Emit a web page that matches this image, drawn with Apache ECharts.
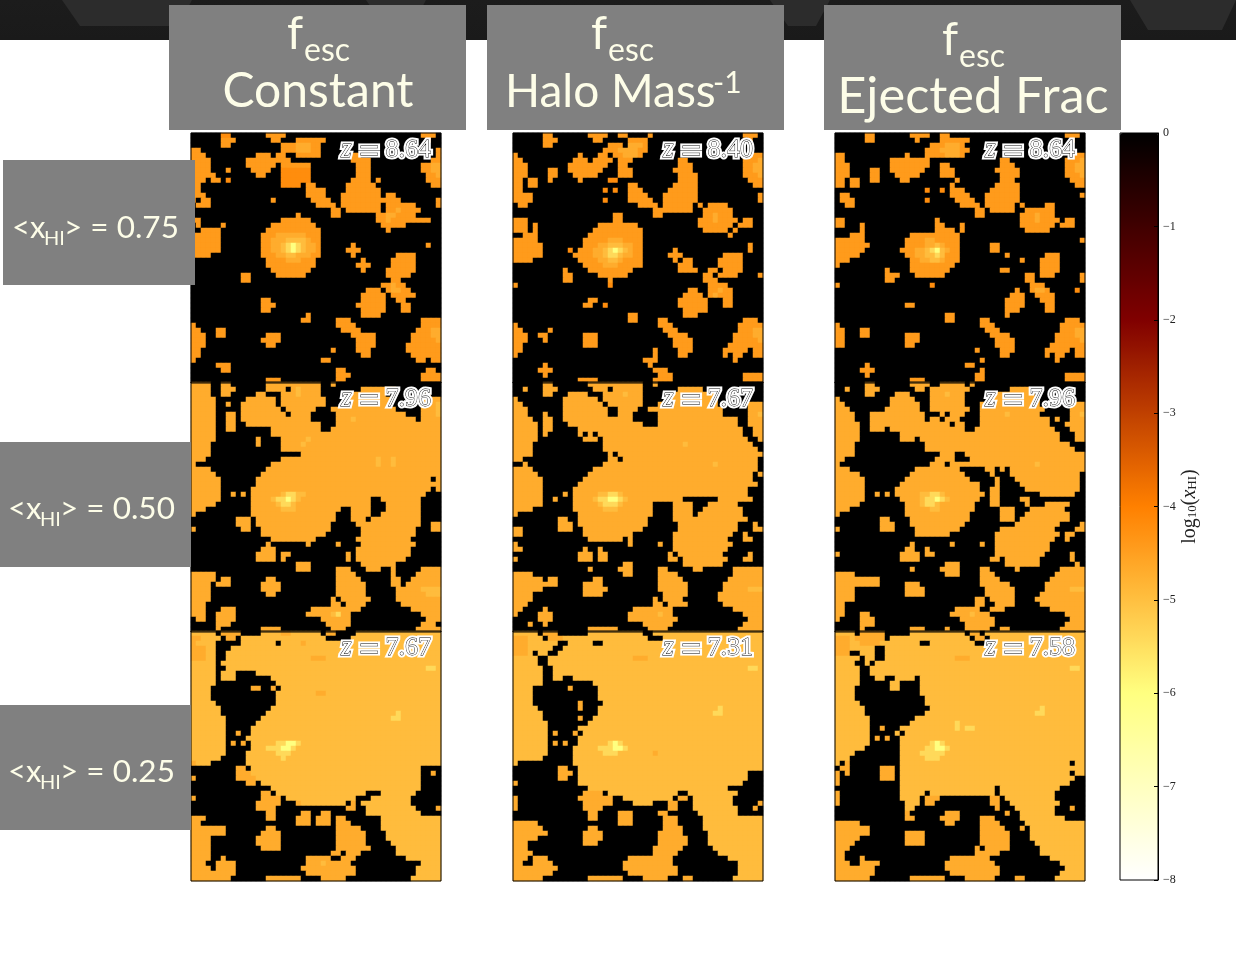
<!DOCTYPE html>
<html>
<head>
<meta charset="utf-8">
<script src="https://cdn.jsdelivr.net/npm/echarts@6/dist/echarts.min.js"></script>
<style>
html, body { margin: 0; padding: 0; background: #fff; }
#main { width: 1236px; height: 968px; }
</style>
</head>
<body>
<div id="main"></div>
<script>
// log10(xHI), one letter per cell, '.' is fully neutral
var levels = { '.': 0, a: -4.2, b: -4.42, c: -4.7, d: -4.95, e: -5.4, f: -6.0 };

var mapConstant75 = [
"......aa.. .....bbbb. .......... .......... ......bbb.",
"......bbb. ......bb.. .bbbbbb... .......... .......b..",
"......bb.. ........bb bcccbb.... .......... ..........",
"bb........ ........bb bcccbb.... .......... .........b",
"bbb....... ...bbb.bb. .bbbbb.... .bbb...... .........b",
"bbbb...... .bbbbbbbbb .......... ..bbbb.... ........bb",
"bbbb...... .bbbbbb.bb bbbb...... ...bbb.... ......bbcc",
"bbbb...b.. ..bbbb..aa aaaa...... ...bbb.... ......bbcc",
"bbbbb..... ...bb...aa aaaa...... ...bbb.... .......bbc",
"bbb.bb.a.. ........aa aaaa...... ..bbbb.b.. .......bbb",
"bb........ ........aa aa.bb..... .bbbbbb... ........bb",
"bb........ .......... ...bbbb... .bbbbbbb.. ..........",
"bbb....... .......... ...bbbb... bbbbbbbb.b b.........",
"b.bb...... ......b... ....bbbb.. bbbbbbbbbb bb.......b",
".bbb...... .......... .....bbbb. bbbbbbbb.b bbbbb....b",
".......... .......... ........bb .bbbbbbb.b bcbbbb....",
".......... .......... .b......bb .......bbc cbbbb.....",
"bb........ ........bb bbbb...... .......bbc bbbbbbbb..",
".b....b... ......bbbb bbbbb..... ........bb bbb.......",
"..bbbb.... .....bbbbb bbbbbb.... .........b ..........",
"bbbbbb.... ....bbbccc cccbbb.... .......... ..........",
"bbbbbb.... ....bbcccd dddcbb.... .......... ..........",
"bbbbbb.... ....bbccde fedccb.... ..b....... .......b..",
"bbbbbb.... ....bbccde fedccb.... .bbb...... ..........",
"bbbb...... ....bbbccd dcccbb.... ..b....... .bbbb.....",
".......... .....bbbbc ccbbb..... ....b..... bbbbb.....",
".......... .....bbbbb bbbbb..... ...bbb.... bbbbb.....",
".......... ......bbbb bbbb...... ....b....b bbbbb.....",
".......... bb.....bbb bbb....... .........b bbbb......",
".......... bb........ .......... .......... bb........",
".......... .......... .......... ........bb cbb.......",
".......... .......... .......... .....bbb.b ccbb......",
".......... .......... .......... ....bbbbb. bbbbb.....",
".......... ....bb.... .......... ....bbbbb. .bb.......",
".......... ....bbb... .......... ...bbbbbb. ..bb......",
".......... ....bb.... .......... ....bbbbb. ..bb......",
".......... .......... ...b...... ....bbbb.. ..........",
".......... .......... ..bb.....b bb........ ......bbbb",
"b......... .......... .........b bbb....... ......bbbb",
"bb...bb... .......... .......... bbbb...... .....bbbcc",
"bbb..bb... .....bbb.. .......... ..bbbbb... ....bbbbcc",
"bbb....... ....bbbb.. .......... ...bbbb... ....bbbbbc",
"bbb....... .....bb... .......... ...bbbb... ...bbbbbbb",
"bb........ .......... ........b. ...bbb.... ...bbbbbbb",
"bb........ .......... .......... ....bb.... ....bbbbbb",
"b......... .......... ......bb.. .......... .....bb.bb",
".....bbb.. .......... .......... .......... ..........",
"......bb.. .......... .........b b......... .......bb.",
".......... .......... .........b bb........ ......bbbb",
".......... .....bbb.. .........b b......... ......bbbb"
];

var mapHaloMass75 = [
"......bb.. .....bbbb. .bb....b.. .......... ......bbb.",
"......bbb. ......bb.. ...bbbb... .......... .......b..",
"......bb.. .........b bb.cccb... .......... ..........",
".......... ........bb bccccbb... .......... ..........",
"b......... ...b...bb. bbcccb.... .......... .......bbb",
"bb........ ..bbb.bbbb .bbb...... ...bb..... ......bbbc",
"bbb....... .bbbbbbbb. .bb....... ...bbb.... ......bbcc",
"bbb....bb. .bbbbbbb.. .bbb...... ..bbbb.... ......bbcc",
"bbb....bb. ..bbbbb... .bbb...... ...bbbb... ......bbbc",
"bb.bb..b.. ...b.....a a......... ...bbbb... .......bbb",
"bb.bb..... .......... ...bb..... ..bbbbb... ........bb",
"bb........ ........a. a..bbb.... .bbbbbb... ..........",
"bbbb...... .......... ...bbbb... bbbbbbb... .........b",
"bbbb...... ........a. ...bbbbb.. bbbbbbb... .........b",
".bb....... .......... .....bbbb. bbbbbb.b.b bbb.......",
".......... .......... ........bb bbbbbb..bb bbbb......",
".......... .......... bb......bb ........bb cbbb......",
"bbb....... .......... bb........ .......bbb cbbbb.bb..",
"bbb.b..... .......bbb bbbbb..... .......bbb bbbb.bbb..",
"bbb.b..... ......bbbb bbbbbb.... ........bb bbb.b.....",
"..bbb..... .....bbbbb bbbbbb.... .......... ...b......",
"bbbbb..... ....bbbbbc ccbbbb.... .......... ..........",
"bbbbbb.... ....bbbccd ddccbb.... .......... .......b..",
"bbbbbb.... .a.bbbccde fedcbb.... ..b....... .......b..",
"bbbbbb.... ..bbbbccde edccbb.... .bbb...... ..bbbb....",
"bbbb...... ...bbbbccd dcbbbb.... ..b.bb.... .bbbbb....",
".......... ....bbbbcc cbbbbb.... ...bbb.... .bbbbb....",
".......... b....bbbbb bbbb...... ...bbbb..b b.bbbb....",
".......... bb.....bbb bbb....... ........bb .bbbb....b",
".......... bb.......b .......... ........bb b.........",
"b......... .........a .......... .........b bbb.......",
".......... .......... .......... .....bb..b bcbb......",
".......... .......... .......... ....bbbb.b cbbb......",
".......... .....bb... .......... ...bbbbbb. ..bb......",
".......... ....bb..a. .......... ...bbbbbb. ..bb......",
".......... .......... .......... ....bbbbb. ..........",
".......... .......... ...bb..... ....bbb... ..........",
".......... .......... ...bb....b b......... ......bbb.",
"b......... .......... .........b bb........ .....bbbbb",
"bb.....b.. .......... .......... bbb....... .....bbbcc",
"bbb..bb... ....bbb... .......... .bbbb..... ....bbbbcc",
"bbb...b... ....bbb... .......... ..bbbb.... ....bbbbbc",
"bb........ ....bbb... .......... ..bbbb.... ...bbbbbbb",
"bb........ .......... ........b. ...bbb.... ..bbbbb.bb",
"b......... .......... ........b. ...bb..... ..b.bb..bb",
".......... .......... ......bbb. .......... ....b.....",
"......b... .......... .......b.. .......... ..........",
".....bbb.. .......... ........bb b......... ..........",
"......b... .......... .........b bb........ ......bbbb",
".......... ...bbbb... ........bb bb........ ......bbbb"
];

var mapEjected75 = [
"......bb.. .....bbbb. .bb....... .......... ......bbb.",
"......bb.. ......b... .bbbbbb... .......... .......b..",
".......... .........b bbcccb.... .......... ..........",
".......... ........bb bccccbb... .......... ..........",
"bb........ ....b...bb bbcccb.... .......... .......bbb",
"bb........ .bbbbbbbb. .......... ...bb..... ......bbbc",
"bbb....... .bbbbbbbb. .bb....... ...bbb.... ......bbcc",
"bbb....bb. .bbbbbbb.. .bbb...... ..bbbbb... ......bbcc",
"bbb....bb. ..bbbbb... .bbb...... ...bbbb... ......bbbc",
"bb.bb..bb. ...bb..... ....b..... ...bbb.... .......bbb",
"bb.bb..... .......... ...b...... ..bbbbb... ........bb",
".......... ........a. .a.bbb.... .bbbbbb... ..........",
".bb....... .......... ...bbbb... bbbbbbb... .........b",
".bbb...... ........a. ....bbbb.. bbbbbbb... ..........",
"..bb...... .......... .....bbbb. bbbbbb.b.. ..bb......",
".......... .......... ........bb .bbbbb..bb bbbb......",
".......... .......... ........bb .......bbb cbbb......",
"bb........ .......... b......... .......bbb cbbbb.bb..",
"bb...b.... .......... bb...b.... .......bbb bbbb.bbb..",
".....b.... .......... bbbb.b.... ........bb bbb.......",
"...bbb.... .....bbbbb bbbbb..... .......... ..........",
"bbbbbb.... ....bbbbcc bbbbb..... .......... .........b",
"bbbbbbb... ....bbbbcc dcbbb..... .bb....... ..........",
"bbbbbb.... ...bbbccde fdcbb..... .bb....... ..........",
"bbbbb..... ....bbccdd edbbb..... ....b..... ..bbb.....",
"bbb....... .....bbccd dcbbb..... .......b.. .bbbb.....",
"b......... .....bbbbb bbbb...... .......... .bbbb.....",
".......... b....bbbbb bbb....... ...bb..... .bbbb.....",
".......... bbb...bbbb bb........ ........bb .bbb.....b",
".......... bb........ .......... ........bb .........b",
"b......... .........a .......... .........b bb........",
".......... .......... .......... ......b..b ccb.....a.",
".......... .......... .......... .....bbb.. bbbb......",
".......... .......... .......... ....bbbb.. .bbb......",
".......... ....bb.... .......... ....bbbb.. ..bb......",
".......... .......... .......... ....bbb... ..bb......",
".......... .......... ..bb...... ....b..... ..........",
".......... .......... ..bb.....b b......... ......bbb.",
"b......... .......... .........b bb........ .....bbbbb",
"bb...bb... .......... .......... bbb....... .....bbbcc",
"bb...bb... ....bbb... .......... .bbbb..... ....bbbbcc",
"bb........ ....bbb... .......... ..bbbb.... ....bbbbbc",
"bb........ ....bb.... .......... ..bbbb.... ...bbbbbbb",
".......... .......... ........b. ...bbb.... ..bbbbb.bb",
".......... .......... .......... ...bb..... ..b.bb..bb",
".......... .......... .........b .......... ....b.....",
"......b... .......... ......bb.. .......... ..........",
".....bbb.. .......... .........b .......... ..........",
"......b... .......... ........bb .......... ......bbbb",
".......... .....bbb.. ........bb .......... ......bbbb"
];

var mapConstant50 = [
"cccc..cc.. .....ccccc cccccc..c. .......... ..........",
"cccc..ccc. .....cccc. cdcccc.... ....cccccc c.........",
"cccc..cc.. ...cc...cc cdcccc.... ..ccccccc. .......c..",
"ccccc..... .cccccc.cc ccccccc... .ccccccccc ......cccc",
"ccccc..c.. ccccccc.cc ccccccc... cccccccccc ......cccd",
"ccccc..... cccccccc.c ccccc...cc cccccccccc c.....cccd",
"ccccc..cc. ccccccccc. cccc.....c cccccccccc ccc...cccd",
"ccccc..cc. cccccccccc cccc.....c ccdccccccc ccccc.cccc",
"ccccc..cc. .ccccccccc cccccc...c cccccccccc cccccccccc",
"ccccc..cc. ......cccc cccccc..cc cccccccccc cccccccccc",
"ccccc..... ......cccc cccccccccc cccccccccc cccccccccc",
"ccccc..... ...c....cc cccdcccccc cccccccccc cccccccccc",
"cccc...... ...c....cc ccdccccccc cccccccccc cccccccccc",
"cccc...... ........cc cccccccccc cccccccccc cccccccccc",
"cccc...... .......... ..cccccccc cccccccccc cccccccccc",
"ccc....... ........cc cccccccccc cccccccdcc dccccccccc",
"c......... ......cccc cccccccccc cccccccdcc dccccccccc",
"cccc...... .....ccccc cccccccccc cccccccccc cccccccccc",
"ccccc..... ....cccccc cccccccccc cccccccccc cccccccccc",
"cccccc.... ...ccccccc cccccccccc cccccccccc cccccccc.c",
"cccccc.... ...ccccccc cccccccccc cccccccccc cccccccccc",
"cccccc.... ..cccccccc cccccccccc cccccccccc cccccccc.c",
"cccccc..c. c.ccccccde eddccccccc cccccccccc ccccccc...",
"cccccc.... ..ccccdeef edcccccccc cccccc..cc cccccc....",
"ccccc..... ..cccccdee dccccccccc cccccc...c cccccc....",
"ccc....... ..ccccccdd dccccccccc ..cccc...c cccccc....",
"c......... ..cccccccc ccccccccc. ..cccc..cc cccccc....",
".........c cc.ccccccc ccccccccc. ..ccc.cccc cccccc....",
".........c cc.ccccccc cccccccc.. ...ccccccc cccccc..cc",
"c......... cc..cccccc cccccccc.. ....cccccc ccccc...cc",
".......... ....cccccc ccccccc... ....cccccc ccccc.....",
".......... ......cccc ccccc..... ...ccccccc cccc......",
".......... .....c.... ...c.....c ....cccccc ccccc.....",
".......... ....ccc... .......... ...ccccccc cccc......",
".......... ...cccc.cc .......... .c.ccccccc cccc......",
".......... ...cccc.c. .......... .c.ccccccc ccc.......",
".......... .......... .ccc...... ....cccccc c.........",
".......... .......... .ccc.....c cc...ccc.. c.....cccc",
"ccccc..... .......... .........c ccc....... c....ccccc",
"ccccc.cc.. .....cc... .........c cccc...... cc..cccccc",
"cccc.ccc.. ....cccc.. .........c ccccc..... cc.ccccccc",
"cccc...... ....cccc.. .........c ccccc..... .cccccdddd",
"cccc...... .....cc... .........c ccccc..... .ccccccddd",
"cccc...... .......... ........c. cccccc.... .ccccccccc",
"ccc....... .......... ........cc .cccc..... ..cccccccc",
"ccc...ccc. .......... ....cccccc cccc...... ....cccccc",
"ccc..cccc. .......... ...cccccde cc........ ......cccc",
".cc..cccc. .......... ......cccc cc........ .......ccc",
".....ccc.. .......... .......ccc cc........ ......ccc.",
".....c.... ....cccc.. ........cc c......... .....ccccc"
];

var mapHaloMass50 = [
"......cc.. .....ccccc cccccc..c. .......... ..........",
"..c...ccc. ......ccc. cccccc.... ...ccccc.. ..........",
"......cc.. .cccc...cc ccdccc.... ..cccccccc c.........",
"c......... ccccccc.cc cccccc.... .ccccccccc c.........",
"cc........ cccccccc.c cccccc...c cccccccccc c......ccc",
"ccc....... ccccccccc. .cccc..ccc cccccccccc cc.....ccc",
"ccc...c... ccccccccc. .ccc.....c cccccccccc cc.....ccd",
"cccc..cc.. cccccccccc cccc.....c cccccccccc ccccc..ccc",
"ccccc.cc.. .ccccccccc cccccc...c cccccccccc ccccc..ccc",
"ccccc.cc.. ...ccccccc cccccccccc cccccccccc cccccc..cc",
"ccccc.c... ...c.c.ccc cccccccccc cccccccccc cccccc..cc",
"ccccc..... ....ccc.cc cccccccccc cccccccccc ccccccc..c",
"cccc...... ........cc cccccccccc ccccdccccc cccccccc..",
"cccc...... ........cc cccccccccc cccccccccc ccccccccc.",
"cccc...... .........c .ccccccccc cccccccccc cccccccccc",
"cc........ .........c c.cccccccc cccccccccc ccccccccc.",
"..c....... ........cc cccccccccc cccccccccc dcccccccc.",
"cccc...... ......cccc cccccccccc cccccccccc ccccccccc.",
"ccccc..... .....ccccc cccccccccc cccccccccc cccccccc.c",
"cccccc.... ....cccccc cccccccccc cccccccccc cccccccc..",
"cccccc.... ...ccccccc cccccccccc cccccccccc ccccccccc.",
"cccccc.... ..cccccccc cccccccccc cccccccccc ccccccc...",
"cccccc.... c.cccccdde edcccccccc cccccccccc ccccccc...",
"cccccc..c. ..ccccdeef fedccccccc cccc...... .ccccccc..",
"cccccc.... ..cccccdee edcccccc.. ..cccc...c ccccc.....",
"cccc...... ..ccccccdd dccccccc.. ..cccc..cc cccccc....",
"c......... ...ccccccc cccccccc.. ..cccc.ccc cccccc....",
".........c c..ccccccc ccccccc... ..cccccccc ccccccc...",
".........c cc.ccccccc ccccccc... ...ccccccc ccccc...c.",
"cc.......c cc..cccccc cccccc.... ...ccccccc ccccc...cc",
"cc........ ....cccccc cccc...... ..cccccccc cccc..c...",
".......... .....ccccc cc.c...... ..cccccccc ccc...cc..",
"c......... .......... ...c.....c ..cccccccc cccc......",
"cc........ ....c..c.. .......... ..cccccccc ccc.......",
".......... ...ccc.cc. .......... .c.ccccccc cc.....c..",
"c......... ...ccc.cc. .......... .cc.cccccc ccc...cc..",
".......... .......... ..cc...... ....cccccc cc........",
".......... .....c.... .ccc.....c c.....cc.. ....cccccc",
"cccc...... .......... ..cc.....c ccc....... ....cccccc",
"cccccc.cc. ......cc.. .........c cccc...... ...ccccccc",
"ccccccccc. ....cccc.. .........c ccccc..... ..cccccccc",
"cccccc.... ....ccccc. .........c ccccc..... ..cccccddd",
"cccc...... ....cccc.. .......... ccccc..... .ccccccccc",
"cccc...... .......... ........c. cccc...... .ccccccccc",
"ccc....... .......... ........cc .cccc..... ..cccccccc",
"cc....c... .......... ....cccccc cc........ ....cccccc",
"c....ccc.. .......... ...ccccccd cc........ ......cccc",
".....ccc.. .......... ...ccccccc ccc....... .......ccc",
"...c..c... .......... ......cccc cc........ ......cccc",
".......... .....ccccc c......ccc c......... .....ccccc"
];

var mapEjected50 = [
"......cc.. .....cccc. .ccccc.c.. .......... ..........",
"..c...ccc. ......cc.c ccccccc... .....cccc. ..........",
"......cc.. ..ccc....c ccdccc.... ..cccccccc ..........",
"c......... .ccccc...c cccccc.... .ccccccccc c.........",
"cc........ .cccccc..c cccccc...c cccccccccc c......ccc",
"ccc....... ccccccc..c ccccccc..c cccccccccc cc.....ccc",
"cccc...ccc cccccccc.. .c.ccc...c ccccdccccc c......ccd",
"cccc...ccc cccccccc.c c.ccc....c cccccccccc ccc.c..ccc",
"ccccc..ccc cccccccccc ccc.cc...c cccccccccc ccc...cccc",
"ccccc..ccc .ccccccccc cccccc..cc cccccccccc cccc...ccc",
"ccccc..... ...ccccccc cccccccccc cccccccccc ccccc...cc",
"ccccc..... ...ccc.ccc cccccccccc cccccccccc ccccc...cc",
"cccc...... ........cc cccccccccc cccccccccc ccccccc...",
"cccc...... ........cc cccccccccc cccccccccc cccccccc..",
"cccc...... .......... .ccc..cccc cccccccccc cccccccccc",
"cc........ .......... cccc...ccc cccccccccc cccccccccc",
"c......... .........c cc.ccccccc cccccccccc dccccccccc",
"ccc....... ......cccc ccccc..... cc.c.ccccc cccccccccc",
"ccccc..... .....ccccc cccccc.... .c...ccccc ccccccccc.",
"cccccc.... ....cccccc ccccccc... ..c...cccc ccccccccc.",
"cccccc.... ...ccccccc ccccccccc. ..c....ccc ccccccccc.",
"cccccc.... ..cccccccc ccccccccc. .cc.....cc ccccccccc.",
"cccccc..c. c.cccccdde edcccccccc .cc....... .ccccccc..",
"cccccc.... ...ccccdee fedcccccc. .cc....cc. ..........",
"ccccc..... ....cccdee dccccccc.. .cc.....c. ..ccccc...",
"ccc....... ....cccccd dccccccc.. ...ccc...c cccccc....",
"c......... ....cccccc ccccccc... ...ccc..cc ccccccc...",
".........c c....ccccc ccccccc... ...ccc.ccc ccccccc...",
".........c cc...ccccc cccccc.... ......cccc ccccc....c",
"c........c cc....cccc ccccc..... ...ccccccc cccc....cc",
".......... ......cccc ccc....... ..cccccccc ccccc.cc..",
".......... .......... .......... ..cccccccc cccc..c...",
".......... .....c.... ...c.....c ..cccccccc ccc.......",
".......... ....cc..c. .......... ..cccccccc ccc.......",
"c......... ...cccc.cc .......... ..cccccccc cc.....c..",
".......... ...cccc... .......... .cc.cccccc c......c..",
".......... .......... ..ccc..... ....cccccc c.......c.",
".......... .....c.... .cccc....c c.....c... .....ccccc",
"cccc...... .......... ..ccc....c cc........ ....cccccc",
"ccccccccc. .......... .........c ccc....... ...ccccccc",
"ccccccccc. ....ccc... .........c ccccc..... ..cccccccc",
"cccc...... ....cccc.. .......... cccccc.... ..cccccddd",
"cccc...... ....cccc.. .......... cccccc.... .ccccccccc",
"cccc...... .......... ........cc .ccccc.... cccccccccc",
"cc........ .......... ........cc ..cccc.... .ccccccccc",
"cc........ .......... ....ccccc. .ccc...... ...ccccccc",
"cc...cc... .......... ...ccccdcc c......... ......cccc",
"c....ccc.. .......... .....ccccc cc........ .......ccc",
".....ccc.. .......... ......cccc cc........ ......cccc",
".....c.... .....ccc.. ..c...cccc c..cc..... .....ccccc"
];

var mapConstant25 = [
"ddddd.cccc ....ddddcc dddddd.cc. ...ddddddd dddddddddd",
"ccdddd.cc. dddddddddd ddddddd... ..dddddddd dddddddddd",
"cdddd..... ddddddd.dd ddcddddddd ..dddddddd dddddddddd",
"cccdd...dd dddddddddd dddddddddd dddddddddd dddddddddd",
"cccdd..ddd dddddddddd dddddddddd dddddddddd dddddddddd",
"cccdd..ddd dddddddddd ddddcccddd dddddddddd dddddddddd",
"ddddd.dddd dddddddddd dddddddddd dddddddddd dddddddddd",
"ddddd..ddd dddddddddd dddddddddd dddddddddd dddddddeed",
"ddddd.ddd. ...ddddddd dddddddddd dddddddddd dddddddddd",
"ddddd.ddd. ......dddd dddddddddd dddddddddd dddddddddd",
"ddddd..... .......ddd dddddddddd dddddddddd dddddddddd",
"dddd...... ..cc..c.dd dddddddddd dddddddddd dddddddddd",
"dddd...... .......ddd dddddccddd dddddddddd dddddddddd",
"dddd...... .......ddd dddddddddd dddddddddd dddddddddd",
"ddddd..... .......ddd dddddddddd dddddddddd dddddddddd",
"dddddd.... ......dddd dddddddddd dddddddddd dddddddddd",
"dddddd.... .....ddddd dddddddddd dddddddddd dedddddddd",
"ddddddd... ....dddddd dddddddddd dddddddddd eedddddddd",
"ddddddd... ...ddddddd dddddddddd dddddddddd dddddddddd",
"ddddddd... ..dddddddd dddddddddd dddddddddd dddddddddd",
"ddddddd..c ..dddddddd dddddddddd dddddddddd dddddddddd",
"ddddddd... .ddddddddd dddddddddd dddddddddd dddddddddd",
"ddddddd.c. c.dddddeef fedddddddd dddddddddd dddddddddd",
"ddddddd... ..dddeeeff eddddddddd dddddddddd dddddddddd",
"ddddddd... .ddddddeee dddddddddd dddddddddd dddddddddd",
"dddddd.... .ddddddded dddddddddd dddddddddd dddddddddd",
"cddd...... .ddddddddd dddddddddd dddddddddd dddddddddd",
".........c c.dddddddd dddddddddd dddddddddd dddddd....",
".........c ccdddddddd dddddddddd dddddddddd dddddd..c.",
"c........c cccddddddd dddddddddd dddddddddd dddddd....",
".......... .cc.dddddd dddddddddd dddddddddd dddddd....",
".......... ......dddd dddddddddd dddddddddd dddddd....",
".......... ....cc.ddd dddddddddd ddddd...dd ddddd.....",
"c......... ....cccc.d dddddddddd ddd...dddd dddd......",
".......... ...ccccc.. .cdddddddd d.c.dddddd dddd......",
".......... ...cccc... .......... .cc..ddddd ddddd....c",
".......... .....cc... ..cc..cc.. .....ddddd dddddd....",
"ccc....... .....cc... .ccc.ccc.c c.......dd dddddddddd",
"cc........ .......... .ccc.ccc.c cc......dd dddddddddd",
"ccccccc... .....cc... .........c cccc....dd dddddddddd",
"ccccccc... ....cccc.. .........c ccccc....d dddddddddd",
"cccc...... ...ccccc.. .........c ccccc....d dddddddddd",
"cccc...... ...ccccc.. .........c ccccc..... dddddddddd",
"cccc...... ....cccc.. .........c cccccc.... .ddddddddd",
"cccc...... .......... ........cc .ccc...... .ddddddddd",
"cccc..c... .......... ...ccccc.. ccc....... ...ddddddd",
"ccc..cccc. .......... ...cccdccc cc........ ......dddd",
"cccc.cccc. .......... ..cccccccc ccc....... .....ddddd",
"ccccccccc. .......... ...ccccccc ccc....... .....ddddd",
"cccccccc.. .....ccccc cc....cccc c......... ....dddddd"
];

var mapHaloMass25 = [
"ddddd.ccc. .....ddddd dddddd..dd dddddddddd dddddddddd",
"cccddd.ccc dddddddddd ddddddd... dddddddddd dddddddddd",
"cccdddddd. .ddddd..dd dddddddddd dddddddddd dddddddddd",
"cccddddd.. dddddddddd dddddddddd dddddddddd dddddddddd",
"cccd.dd..d dddddddddd dddddddddd dddddddddd dddddddddd",
"ddddd..ddd dddddddddd ddddcccddd dddddddddd dddddddddd",
"ddddd..ddd dddddddddd dddddddddd dddddddddd dddddddddd",
"dddddd..dd dddddddddd dddddddddd dddddddddd dddddddeed",
"dddddd..dd dddddddddd dddddddddd dddddddddd dddddddddd",
"dddddd..dd ..dddddddd dddddddddd dddddddddd dddddddddd",
"dddddd.... ......dddd dddddddddd dddddddddd dddddddddd",
"dddd...... .c.....ddd dddddddddd dddddddddd dddddddddd",
"dddd...... .......ddd dddddddddd dddddddddd dddddddddd",
"dddd...... .......ddd dddddddddd dddddddddd dddddddddd",
"dddd...... ...c....dd dddddddddd dddddddddd dddddddddd",
"ddddd..... ...c...ddd dddddddddd dddddddddd dedddddddd",
"dddddd.... .......ddd dddddddddd dddddddddd eedddddddd",
"dddddd.... ...c..dddd dddddddddd dddddddddd dddddddddd",
"ddddddd... .....ddddd dddddddddd dddddddddd dddddddddd",
"ddddddd... ...ddddddd dddddddddd dddddddddd dddddddddd",
"ddddddd.c. ..c.dddddd dddddddddd dddddddddd dddddddddd",
"ddddddd... ...ddddddd dddddddddd dddddddddd dddddddddd",
"ddddddd.c. c..dddddde fedddddddd dddddddddd dddddddddd",
"ddddddd... ..dddddeee ffeddddddd dddddddddd dddddddddd",
"ddddddd... ..ddddddee edddddddcd dddddddddd dddddddddd",
"dddddd.... ..dddddddd dddddddddd dddddddddd dddddddddd",
"d......... ..dddddddd dddddddddd dddddddddd dddddddddd",
".........c c..ddddddd dddddddddd dddddddddd dddddddddd",
".........c cc.ddddddd dddddddddd dddddddddd ddddddd...",
".........c c..ddddddd dddddddddd dddddddddd ddddddd...",
"c......... ...ddddddd dddddddddd dddddddddd dddddd....",
".......... .....ddddd dddddddddd dddddddddd ddd.......",
".......... ....cccc.d dddddddddd ddd..ddddd ddddd.....",
"c......... ...ccccccc ..dddddddd dd.cc.dddd dddd......",
"c......... ....cccccc ....dddd.. .cc...dddd dddd.....c",
"c......... ....cccc.. .......... .cc...dddd ddddd...c.",
".......... .....cc... .ccc.....c c......ddd ddddd.....",
".......... .....cc... .ccc...... ccc.....dd dddddddddd",
"ccccc..... .......... .ccc...... ccc.....dd dddddddddd",
"cccccc.... .....cc... .......... cccc....dd dddddddddd",
"ccccccc... ....cccc.. .........c cccc.....d dddddddddd",
"ccccc..... ....cccc.. .........c ccccc....d dddddddddd",
"ccc....... ....ccc... .........c ccccc....d dddddddddd",
"ccc....... .......... ........cc cccc...... dddddddddd",
"cccc...... .......... ........cc ccc....... .ddddddddd",
"ccc.ccc... .......... ...ccccccc cc........ ...ddddddd",
"cc..cccc.. .......... ..cccccccc cc........ .....ddddd",
"ccccccccc. .......... ..cccccccc ccc....... .....ddddd",
"cccccccc.. .......... ...ccccccc ccc....... .....ddddd",
"cccccc.... .....ccccc cc....cccc c...cc.... ....dddddd"
];

var mapEjected25 = [
"dddd.ccccc .....ddddd dddddd.cc. dddddddddd dddddddddd",
"cccdcccccc .ddddddddd ddddddd.cc .ddddddddd dddddddddd",
"cccddccccd ddddddd..d dddddddd.. dddddddddd dddddddddd",
"cccddddd.. dddddddddd dddddddddd dddddddddd dddddddddd",
"ccc..ddd.. dddddddddd dddddddddd dddddddddd dddddddddd",
"ddddd.dd.. dddddddddd ddddcccddd dddddddddd dddddddddd",
"dddd..d.dd dddddddddd dddddddddd dddddddddd dddddddddd",
"ddddd..ddd dddddddddd dddddddddd dddddddddd dddddddeed",
"ddddd..ddd dddddddddd dddddddddd dddddddddd dddddddddd",
"ddddd...dd ..dddd.ddd dddddddddd dddddddddd dddddddddd",
"ddddd..... .dd....ddd dddddddddd dddddddddd dddddddddd",
"dddd...... .dd....ddd dddddddddd dddddddddd dddddddddd",
"dddd...... .......ddd dddddddddd dddddddddd dddddddddd",
"dddd...... ........dd dddddddddd dddddddddd dddddddddd",
"ddddd..... ........dd dddddddddd dddddddddd dddddddddd",
"dddddd.... .........d dddddddddd dddddddddd dedddddddd",
"dddddd.... ........dd dddddddddd dddddddddd eedddddddd",
"ddddddd... ......dddd dddddddddd dddddddddd dddddddddd",
"ddddddd... .....ddddd ddddeddddd dddddddddd dddddddddd",
"ddddddd..c ...ddddddd ddddedeedd dddddddddd dddddddddd",
"ddddddd... ..d.dddddd dddddddddd dddddddddd dddddddddd",
"ddddddd.c. c..ddddddd dddddddddd dddddddddd dddddddddd",
"ddddddd... ...dddddde fedddddddd dddddddddd dddddddddd",
"dddddd.... ...dddddee ffeddddddd dddddddddd dddddddddd",
"dddd...... ...ddddeee eedddddddd dddddddddd dddddddddd",
"ddd....... ...dddddee eddddddddd dddddddddd dddddddddd",
"d.c....... ...ddddddd dddddddddd dddddddddd ddddddd.dd",
".cc......c cc.ddddddd dddddddddd dddddddddd dddddddddd",
"c.c......c cc.ddddddd dddddddddd dddddddddd ddddddd.dd",
"c........c cc.ddddddd dddddddddd dddddddddd dddddddd..",
"c......... ...ddddddd dddddddddd dddddddddd ddddddd...",
".......... ...ddddddd dddddddddd dd.ddddddd ddddd.....",
"c......... ...ddddd.d dddddddddd dd.ddddddd dddd......",
"c......... ...dddd.cc c......... .cc.dddddd dddd......",
"c......... ....ddd.cc .......... .cc..ddddd ddddd.....",
".......... ....dd.... .......... ..c...dddd dddd...c..",
".......... ....c..... ..ccc..... ....c..ddd dddd......",
".......... ....cc.... .cccc....c cc.....ddd dddddd....",
"ccccc..... .......... ..cc.....c ccc.....dd dddddddddd",
"ccccccc... .......... .........c cccc...c.d dddddddddd",
"ccccccc... ....cccc.. .........c ccccc....d dddddddddd",
"ccccc..... ....cccc.. .........c ccccc....d dddddddddd",
"cccc...... ....cccc.. .........c ccccc..... dddddddddd",
"ccc....... .......... ........c. ccccc..... .ddddddddd",
"cc........ .......... ........cc ccc....... .ddddddddd",
"cc...c.... .......... ...ccccccc c......... ...ddddddd",
"ccc..cccc. .......... ..cccccccc cc........ .....ddddd",
"cccccccc.. .......... ..cccccccc ccc....... ......dddd",
"cccccccc.. .......... ...ccccccc ccc....... .....ddddd",
"ccccccc... .....ccccc cc....cccc cc....cc.. ....dddddd"
];

var maps = [
  [mapConstant75, mapHaloMass75, mapEjected75],
  [mapConstant50, mapHaloMass50, mapEjected50],
  [mapConstant25, mapHaloMass25, mapEjected25]
];
var redshifts = [
  ['8.64', '8.40', '8.64'],
  ['7.96', '7.67', '7.96'],
  ['7.67', '7.31', '7.58']
];
var neutralFractions = ['0.75', '0.50', '0.25'];
var colorStops = ['#ffffff', '#ffff80', '#ff8000', '#800000', '#000000'];

var panelLeft = [191, 513, 835];
var panelTop = [133, 382, 631];
var cream = '#fdfde8';
var serif = '"Liberation Serif", serif';
var sans = 'Lato, sans-serif';

var cellIndex = [];
for (var k = 0; k < 50; k++) cellIndex.push(k);

function cells(rows) {
  var out = [];
  rows.forEach(function (row, y) {
    var s = row.replace(/ /g, '');
    for (var x = 0; x < 50; x++) {
      out.push([x, y, levels[s.charAt(x) || '.']]);
    }
  });
  return out;
}

var grids = [], xAxes = [], yAxes = [], series = [], graphics = [];

maps.forEach(function (rowMaps, r) {
  rowMaps.forEach(function (rows, c) {
    var i = grids.length;
    // 5px cells, neighbouring rows share one pixel
    grids.push({ left: panelLeft[c], top: panelTop[r], width: 250, height: 250, show: true, borderColor: '#000', borderWidth: 1, backgroundColor: 'transparent', z: 5 });
    xAxes.push({ gridIndex: i, type: 'category', data: cellIndex, show: false });
    yAxes.push({ gridIndex: i, type: 'category', data: cellIndex, show: false, inverse: true });
    series.push({ type: 'heatmap', xAxisIndex: i, yAxisIndex: i, data: cells(rows), silent: true, progressive: 0, z: 2 });
  });
});

// colour bar axis, sits on the visualMap strip
grids.push({ left: 1120, top: 133, width: 38, height: 747, show: true, borderColor: '#000', borderWidth: 1, backgroundColor: 'transparent', z: 6 });
xAxes.push({ gridIndex: 9, type: 'category', data: [''], axisLine: { show: false }, axisTick: { show: false }, axisLabel: { show: false }, z: 6 });
yAxes.push({
  gridIndex: 9, type: 'value', min: -8, max: 0, interval: 1, position: 'right', z: 6,
  splitLine: { show: false },
  axisLine: { show: true, lineStyle: { color: '#000', width: 1 } },
  axisTick: { show: true, inside: true, length: 4, lineStyle: { color: '#000' } },
  axisLabel: {
    margin: 5, color: '#222', fontFamily: serif, fontSize: 12,
    formatter: function (v) { return String(v).replace('-', '\u2212'); }
  },
  name: '{n|log}{s|10}{n|(}{i|x}{s|HI}{n|)}',
  nameLocation: 'middle', nameRotate: 90, nameGap: 22,
  nameTextStyle: {
    color: '#222', fontFamily: serif,
    rich: {
      n: { fontFamily: serif, fontSize: 20, color: '#222' },
      i: { fontFamily: serif, fontSize: 20, fontStyle: 'italic', color: '#222' },
      s: { fontFamily: serif, fontSize: 13, color: '#222', padding: [6, 0, 0, 0] }
    }
  }
});

// baseline helper for the slide text
function label(text, x, base, size, opts) {
  opts = opts || {};
  return {
    type: 'text', z: opts.z || 60, silent: true,
    style: {
      text: text, x: x, y: base - size * 0.35,
      font: (opts.italic ? 'italic ' : '') + size + 'px ' + (opts.family || sans),
      fill: opts.fill || cream, stroke: opts.stroke, lineWidth: opts.lineWidth || 0,
      textAlign: opts.align || 'left', textVerticalAlign: 'middle'
    }
  };
}
function box(x, y, w, h) {
  return {
    type: 'rect', z: 50, silent: true, shape: { x: x, y: y, width: w, height: h },
    style: { fill: '#808080' }
  };
}
function facet(x, y, w, h) {
  return { type: 'polygon', z: 41, silent: true, shape: { points: [[x, y], [x + w, y], [x + w - 14, y + h], [x + 18, y + h]] }, style: { fill: '#2c2c2c' } };
}

// dark slide banner
graphics.push({
  type: 'rect', z: 40, silent: true, shape: { x: 0, y: 0, width: 1236, height: 40 },
  style: { fill: new echarts.graphic.LinearGradient(0, 0, 0, 1, [{ offset: 0, color: '#1c1c1c' }, { offset: 1, color: '#1a1a1a' }]) }
});
graphics.push(facet(62, 0, 130, 26), facet(366, 0, 60, 26), facet(770, 0, 60, 26), facet(1130, 0, 106, 30));

// column headers
graphics.push(box(169, 5, 297, 125), box(487, 5, 297, 125), box(824, 5, 297, 125));
graphics.push(label('f', 287, 50, 46), label('esc', 304, 62, 32), label('Constant', 318, 108, 48, { align: 'center' }));
graphics.push(label('f', 591, 50, 46), label('esc', 608, 62, 32), label('Halo Mass', 505, 108, 46), label('-1', 713, 94, 30));
graphics.push(label('f', 942, 56, 46), label('esc', 959, 68, 32), label('Ejected Frac', 973, 114, 50.5, { align: 'center' }));

// row labels
var rowBoxes = [[3, 160, 192], [0, 442, 191], [0, 705, 191]];
var rowText = [[12, 239], [8, 520], [8, 783]];
neutralFractions.forEach(function (v, r) {
  var b = rowBoxes[r], t = rowText[r];
  graphics.push(box(b[0], b[1], b[2], 125));
  graphics.push(label('<x', t[0], t[1], 31));
  graphics.push(label('HI', t[0] + 32, t[1] + 7, 20));
  graphics.push(label('> = ' + v, t[0] + 52, t[1], 31.5));
});

// redshift tags: white halo underneath, then outlined glyphs
function tagPiece(text, x, base, size, italic, align) {
  graphics.push(label(text, x, base, size, { italic: italic, family: serif, fill: '#fff', stroke: '#fff', lineWidth: 5, align: align, z: 30 }));
  graphics.push(label(text, x, base, size, { italic: italic, family: serif, fill: '#fff', stroke: '#000', lineWidth: 0.8, align: align, z: 31 }));
}
redshifts.forEach(function (row, r) {
  row.forEach(function (z, c) {
    var base = panelTop[r] + 26;
    tagPiece('z', panelLeft[c] + 150, base, 27, true, 'left');
    tagPiece('=', panelLeft[c] + 168, base + 7, 36, false, 'left');
    tagPiece(z, panelLeft[c] + 240, base, 26, false, 'right');
  });
});

var chart = echarts.init(document.getElementById('main'));
chart.setOption({
  animation: false,
  backgroundColor: '#fff',
  grid: grids,
  xAxis: xAxes,
  yAxis: yAxes,
  visualMap: {
    type: 'continuous', show: true, min: -8, max: 0, left: 1120, top: 133, padding: 0,
    itemWidth: 38, itemHeight: 747, calculable: false, hoverLink: false, text: null, z: 3,
    seriesIndex: [0, 1, 2, 3, 4, 5, 6, 7, 8],
    inRange: { color: colorStops }
  },
  series: series,
  graphic: graphics
});
</script>
</body>
</html>
